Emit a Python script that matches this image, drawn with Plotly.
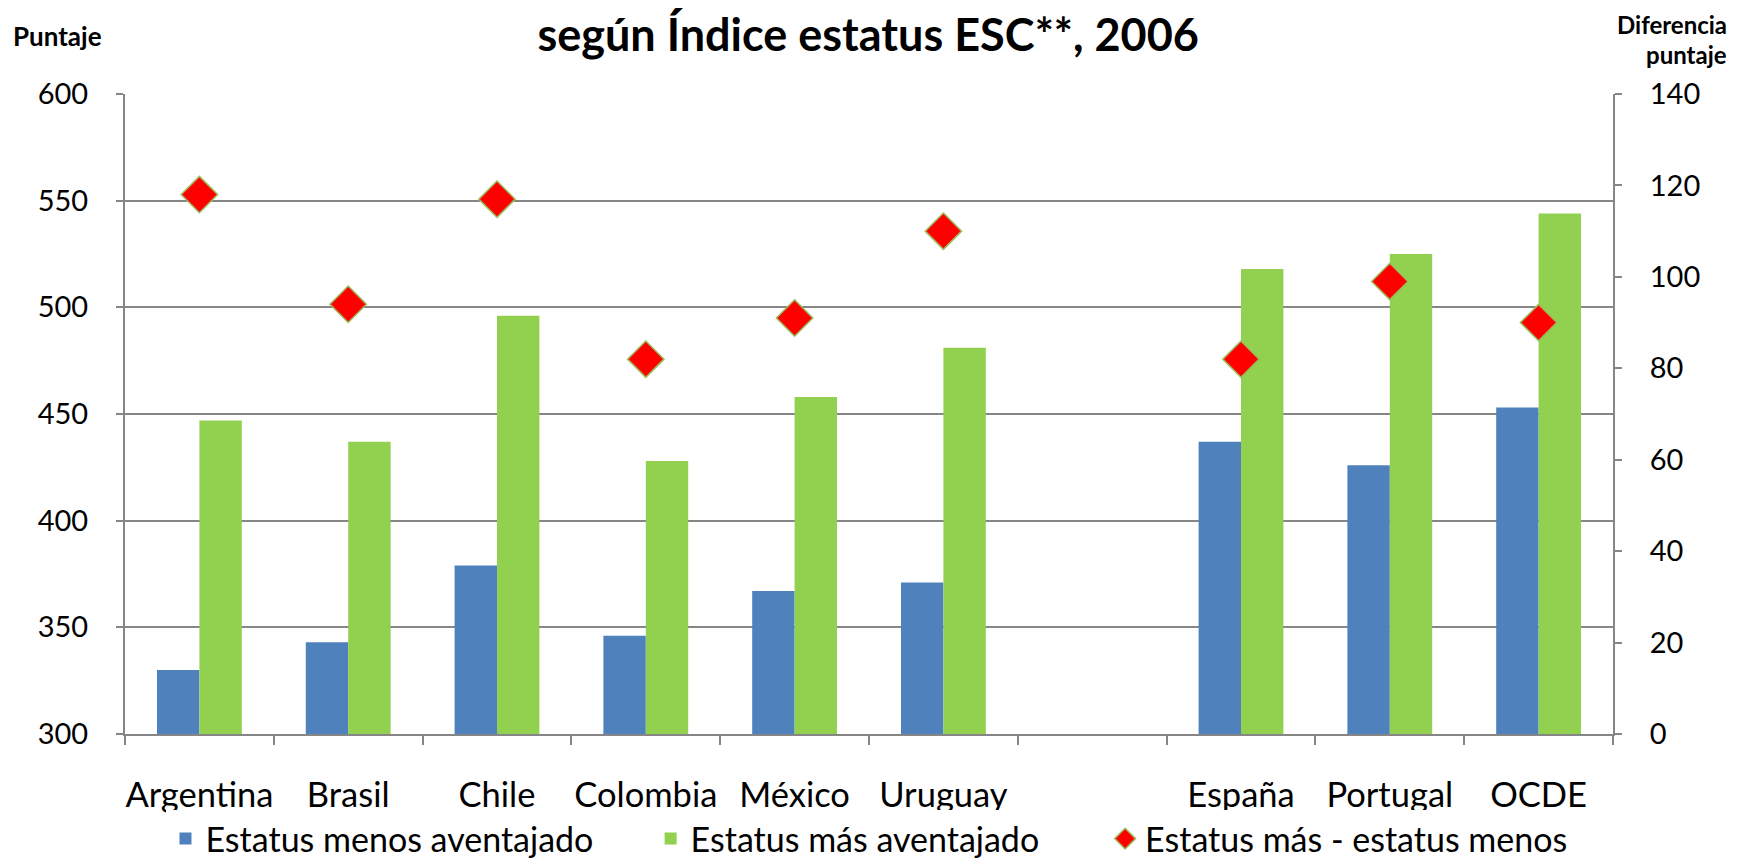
import plotly.graph_objects as go

categories = ["Argentina", "Brasil", "Chile", "Colombia", "México", "Uruguay", " ", "España", "Portugal", "OCDE"]
menos = [330, 343, 379, 346, 367, 371, None, 437, 426, 453]
mas = [447, 437, 496, 428, 458, 481, None, 518, 525, 544]
diferencia = [118, 94, 117, 82, 91, 110, None, 82, 99, 90]

FONT = "Lato"
W, H = 1739, 858
L, R, T, B = 117, 134, 86, 132
PW = W - L - R
PH = H - T - B
NB = "\u00a0"


def py(fig_y):
    """figure pixel y (from top) -> paper coordinate"""
    return (H - B - fig_y) / PH


def px(fig_x):
    return (fig_x - L) / PW


fig = go.Figure()
fig.add_trace(go.Bar(x=categories, y=menos, name="Estatus menos aventajado" + NB * 6,
                     marker=dict(color="#4F81BD", line=dict(width=0))))
fig.add_trace(go.Bar(x=categories, y=mas, name="Estatus más aventajado" + NB * 7,
                     marker=dict(color="#92D050", line=dict(width=0))))
fig.add_trace(go.Scatter(x=categories, y=diferencia, name="Estatus más - estatus menos",
                         mode="markers", yaxis="y2",
                         marker=dict(symbol="diamond", size=28, color="#FF0000",
                                     line=dict(color="#9BBB59", width=1.5))))

fig.update_layout(
    width=W, height=H,
    margin=dict(l=L, r=R, t=T, b=B, autoexpand=False),
    paper_bgcolor="white", plot_bgcolor="white",
    font=dict(family=FONT, size=34, color="black"),
    barmode="group", bargap=0.43, bargroupgap=0,
    showlegend=True,
    legend=dict(orientation="h", x=0.5, xanchor="center", y=py(831), yanchor="middle",
                font=dict(size=34), traceorder="normal"),
    title=dict(text="<b>según Índice estatus ESC**, 2006</b>", x=px(853), xanchor="center",
               y=1 - 27 / H, yanchor="middle", font=dict(size=45, family=FONT)),
    xaxis=dict(type="category", categoryorder="array", categoryarray=categories,
               range=[-0.5, 9.5], showline=True, linecolor="#868686", linewidth=2,
               ticks="outside", tickson="boundaries", ticklen=9, tickcolor="#868686",
               tickwidth=2, ticklabelstandoff=30, tickangle=0, automargin=False,
               tickfont=dict(size=34.5), showgrid=False, zeroline=False),
    yaxis=dict(range=[300, 600], tickvals=[300, 350, 400, 450, 500, 550, 600],
               showline=True, linecolor="#868686", linewidth=2, ticks="outside",
               ticklen=7, tickcolor="#868686", tickwidth=2, ticklabelstandoff=22,
               automargin=False, tickfont=dict(size=29),
               showgrid=True, gridcolor="#868686", gridwidth=2, zeroline=False),
    yaxis2=dict(range=[0, 140], tickvals=[0, 20, 40, 60, 80, 100, 120, 140],
                overlaying="y", side="right", showline=True, linecolor="#868686",
                linewidth=2, ticks="outside", ticklen=7, tickcolor="#868686", tickwidth=2,
                ticklabelstandoff=22, automargin=False, tickfont=dict(size=29),
                showgrid=False, zeroline=False),
)

fig.add_annotation(text="<b>Puntaje</b>", xref="paper", yref="paper", x=px(3), xanchor="left",
                   y=py(28), yanchor="middle", showarrow=False, font=dict(size=26, family=FONT))
fig.add_annotation(text="<b>Diferencia</b>", xref="paper", yref="paper",
                   x=px(1721), xanchor="right", align="right",
                   y=py(16), yanchor="middle", showarrow=False, font=dict(size=24, family=FONT))
fig.add_annotation(text="<b>puntaje</b>", xref="paper", yref="paper",
                   x=px(1721), xanchor="right", align="right",
                   y=py(46), yanchor="middle", showarrow=False, font=dict(size=24, family=FONT))

fig.write_html("out.html")
